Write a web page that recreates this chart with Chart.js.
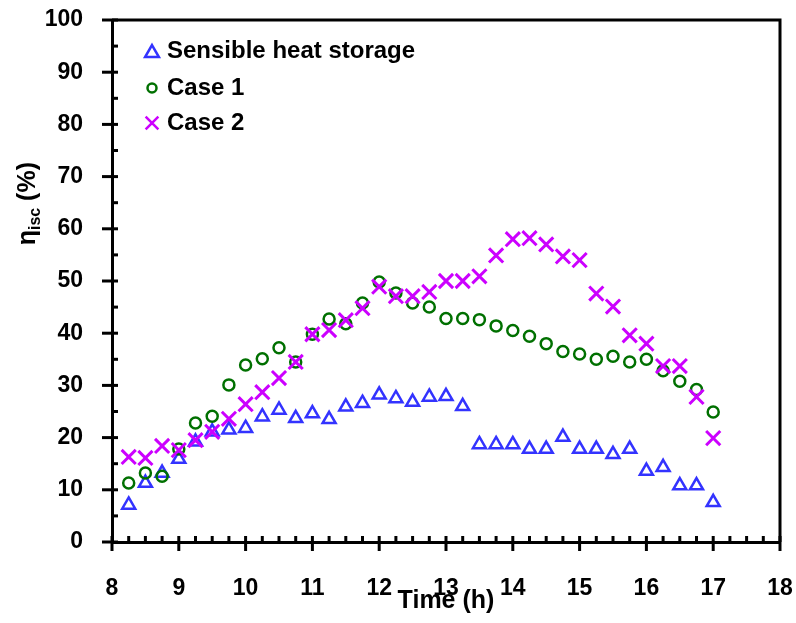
<!DOCTYPE html>
<html>
<head>
<meta charset="utf-8">
<script src="https://cdn.jsdelivr.net/npm/chart.js@4.4.1/dist/chart.umd.min.js"></script>
<style>
  html, body { margin: 0; padding: 0; background: #fff; }
  #wrap { width: 796px; height: 623px; }
</style>
</head>
<body>
<div id="wrap"><canvas id="chart" width="796" height="623"></canvas></div>
<script>
// time of day (h)
const times = [8.25, 8.5, 8.75, 9, 9.25, 9.5, 9.75, 10, 10.25, 10.5, 10.75, 11,
  11.25, 11.5, 11.75, 12, 12.25, 12.5, 12.75, 13, 13.25, 13.5, 13.75, 14,
  14.25, 14.5, 14.75, 15, 15.25, 15.5, 15.75, 16, 16.25, 16.5, 16.75, 17]

// efficiency (%)
const sensible = [7.1, 11.3, 13.2, 15.9, 19.2, 21.1, 21.5, 21.8, 24.0, 25.3, 23.7, 24.6,
  23.5, 25.9, 26.6, 28.2, 27.5, 26.8, 27.8, 27.9, 26.0, 18.7, 18.7, 18.7,
  17.8, 17.8, 20.1, 17.8, 17.8, 16.8, 17.8, 13.6, 14.3, 10.8, 10.8, 7.6]
const case1 = [11.3, 13.2, 12.6, 17.8, 22.8, 24.1, 30.1, 33.9, 35.1, 37.2, 34.5, 39.8,
  42.7, 41.8, 45.8, 49.8, 47.7, 45.8, 45.0, 42.8, 42.8, 42.6, 41.4, 40.5,
  39.4, 38.0, 36.5, 36.0, 35.0, 35.6, 34.5, 35.0, 32.8, 30.8, 29.2, 24.9]
const case2 = [16.3, 16.1, 18.4, 17.6, 19.5, 21.1, 23.6, 26.4, 28.7, 31.4, 34.5, 39.8,
  40.6, 42.5, 44.8, 48.9, 47.1, 47.1, 47.9, 50.0, 50.0, 50.9, 54.9, 58.0,
  58.2, 57.0, 54.7, 54.0, 47.6, 45.1, 39.6, 38.0, 33.7, 33.7, 27.8, 19.9]

const seriesNames = ['Sensible heat storage', 'Case 1', 'Case 2']
const xRange = [8, 18]
const yRange = [0, 100]

const FONT = "'Liberation Sans', Arial, sans-serif"

function pts(vals) {
  return times.map((t, i) => ({ x: t, y: vals[i] }))
}

// frame, inward minor ticks, crossing major ticks
const axisDeco = {
  id: 'axisDeco',
  afterDraw(chart) {
    const ctx = chart.ctx, a = chart.chartArea
    const xs = chart.scales.x, ys = chart.scales.y
    ctx.save()
    ctx.strokeStyle = '#000'
    ctx.lineWidth = 3
    ctx.beginPath()
    ctx.moveTo(a.left, a.top)
    ctx.lineTo(a.right, a.top)
    ctx.lineTo(a.right, a.bottom)
    ctx.stroke()
    for (let k = 0; k <= (xs.max - xs.min) * 4; k++) {
      const px = xs.getPixelForValue(xs.min + k / 4)
      ctx.beginPath()
      ctx.moveTo(px, k % 4 === 0 ? a.bottom + 9 : a.bottom)
      ctx.lineTo(px, a.bottom - 6)
      ctx.stroke()
    }
    for (let k = 0; k <= (ys.max - ys.min) / 5; k++) {
      const py = ys.getPixelForValue(ys.min + k * 5)
      ctx.beginPath()
      ctx.moveTo(k % 2 === 0 ? a.left - 10 : a.left, py)
      ctx.lineTo(a.left + 6, py)
      ctx.stroke()
    }
    ctx.restore()
  }
}

// y title with subscript
const yTitle = {
  id: 'yTitle',
  afterDraw(chart) {
    const ctx = chart.ctx
    ctx.save()
    ctx.fillStyle = '#000'
    ctx.textBaseline = 'alphabetic'
    const big = 'bold 25px ' + FONT, small = 'bold 16px ' + FONT
    ctx.font = big
    const w1 = ctx.measureText('\u03b7').width
    const w3 = ctx.measureText(' (%)').width
    ctx.font = small
    const w2 = ctx.measureText('isc').width
    ctx.translate(35, 162 + w1 + w2 + w3)
    ctx.rotate(-Math.PI / 2)
    ctx.font = big
    ctx.fillText('\u03b7', 0, 0)
    ctx.font = small
    ctx.fillText('isc', w1, 5)
    ctx.font = big
    ctx.fillText(' (%)', w1 + w2, 0)
    ctx.restore()
  }
}

// legend in the upper-left of the plot
const innerLegend = {
  id: 'innerLegend',
  afterDraw(chart) {
    const ctx = chart.ctx
    const rowsY = [51, 88, 123]
    const sizes = [8, 4.5, 9]
    ctx.save()
    chart.data.datasets.forEach((ds, i) => {
      ctx.strokeStyle = ds.borderColor
      ctx.fillStyle = 'rgba(0,0,0,0)'
      ctx.lineWidth = 2.5
      Chart.helpers.drawPoint(ctx, { pointStyle: ds.pointStyle, radius: sizes[i], borderWidth: 2.5, rotation: 0 }, 152, rowsY[i] + (i === 0 ? 2 : 0))
      ctx.fillStyle = '#000'
      ctx.font = 'bold 24px ' + FONT
      ctx.textBaseline = 'middle'
      ctx.fillText(ds.label, 167, rowsY[i])
    })
    ctx.restore()
  }
}

function noEdgePad(scale) {
  scale.paddingLeft = 0
  scale.paddingRight = 0
  scale.paddingTop = 0
  scale.paddingBottom = 0
}

const data = {
  datasets: [
    {
      label: seriesNames[0],
      data: pts(sensible),
      pointStyle: 'triangle',
      pointRadius: 7.5,
      borderWidth: 2.5,
      borderColor: 'rgb(51, 51, 255)',
      backgroundColor: 'rgba(0,0,0,0)',
      showLine: false,
      order: 2
    },
    {
      label: seriesNames[1],
      data: pts(case1),
      pointStyle: 'circle',
      pointRadius: 5.5,
      borderWidth: 2.5,
      borderColor: 'rgb(0, 112, 0)',
      backgroundColor: 'rgba(0,0,0,0)',
      showLine: false,
      order: 1
    },
    {
      label: seriesNames[2],
      data: pts(case2),
      pointStyle: 'crossRot',
      pointRadius: 10,
      borderWidth: 3,
      borderColor: 'rgb(204, 0, 255)',
      backgroundColor: 'rgba(0,0,0,0)',
      showLine: false,
      order: 0
    }
  ]
}

const config = {
  type: 'scatter',
  data,
  options: {
    responsive: false,
    animation: false,
    layout: { padding: { left: 0, top: 20, right: 16, bottom: 0 } },
    plugins: {
      legend: { display: false },
      tooltip: { enabled: false }
    },
    scales: {
      x: {
        type: 'linear',
        min: xRange[0],
        max: xRange[1],
        afterFit(scale) { scale.height = 81; noEdgePad(scale) },
        grid: { display: false, drawTicks: false },
        border: { display: true, color: '#000', width: 3 },
        ticks: {
          stepSize: 1,
          padding: 33,
          color: '#000',
          font: { family: FONT, size: 23, weight: 'bold' }
        },
        title: {
          display: true,
          text: 'Time (h)',
          color: '#000',
          padding: { top: 0, bottom: 7 },
          font: { family: FONT, size: 25, weight: 'bold' }
        }
      },
      y: {
        min: yRange[0],
        max: yRange[1],
        afterFit(scale) { scale.width = 112; noEdgePad(scale) },
        grid: { display: false, drawTicks: false },
        border: { display: true, color: '#000', width: 3 },
        ticks: {
          stepSize: 10,
          padding: 29,
          color: '#000',
          font: { family: FONT, size: 23, weight: 'bold' }
        }
      }
    }
  },
  plugins: [axisDeco, yTitle, innerLegend]
}

const effChart = new Chart(document.getElementById('chart'), config)
</script>
</body>
</html>
